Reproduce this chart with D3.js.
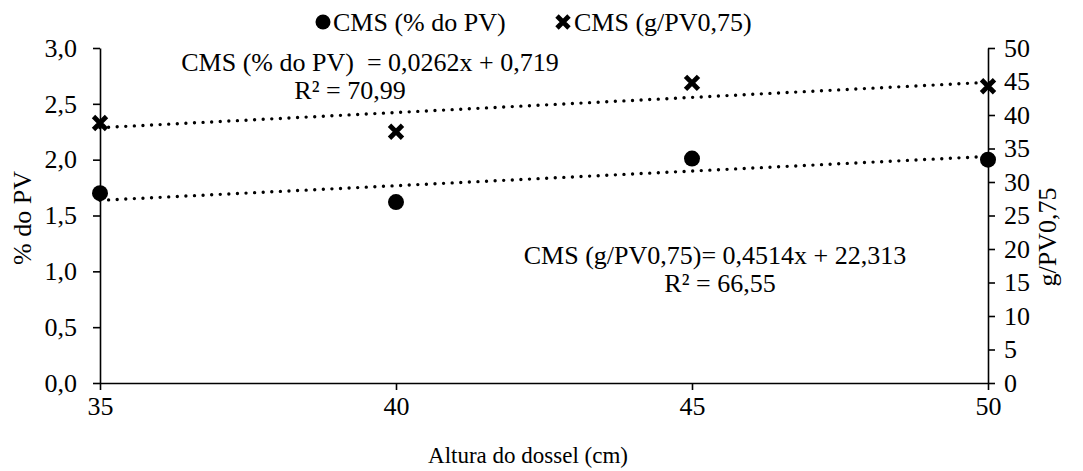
<!DOCTYPE html>
<html>
<head>
<meta charset="utf-8">
<script src="https://cdn.jsdelivr.net/npm/d3@7"></script>
<style>
  html, body { margin: 0; padding: 0; background: #fff; }
  svg { display: block; }
</style>
</head>
<body>
<svg id="chart" width="1083" height="471"></svg>
<script>
// ---- data ----
const alturas = [35, 40, 45, 50];                 // x categories (cm)
const cmsPV = [1.70, 1.62, 2.01, 2.00];           // CMS (% do PV) - left axis
const cmsGPV = [38.8, 37.5, 44.8, 44.3];          // CMS (g/PV0,75) - right axis
const xTicks = [35, 40, 45, 50];
const yLeftTicks = [0, 0.5, 1.0, 1.5, 2.0, 2.5, 3.0];
const yRightTicks = [0, 5, 10, 15, 20, 25, 30, 35, 40, 45, 50];
const trendPV = [0.0262, 0.719];                  // slope, intercept
const trendGPV = [0.4514, 22.313];
const seriesNames = ["CMS (% do PV)", "CMS (g/PV0,75)"];
const eqPV = ["CMS (% do PV)  = 0,0262x + 0,719", "R² = 70,99"];
const eqGPV = ["CMS (g/PV0,75)= 0,4514x + 22,313", "R² = 66,55"];
const axisTitles = ["Altura do dossel (cm)", "% do PV", "g/PV0,75"];

// ---- layout ----
const W = 1083, H = 471;
const m = { left: 100, right: 95, top: 48, bottom: 88 };
const FONT = '"Liberation Serif", "Times New Roman", Times, serif';
const fs = 26;
const svg = d3.select("#chart");

const x = d3.scaleLinear().domain([35, 50]).range([m.left, W - m.right]);
const yL = d3.scaleLinear().domain([0, 3]).range([H - m.bottom, m.top]);
const yR = d3.scaleLinear().domain([0, 50]).range([H - m.bottom, m.top]);

const fmt1 = d => d3.format(".1f")(d).replace(".", ",");

// axes
const gx = svg.append("g").attr("transform", `translate(0,${H - m.bottom})`)
  .call(d3.axisBottom(x).tickValues(xTicks).tickSize(7).tickSizeOuter(0).tickPadding(7));
const gl = svg.append("g").attr("transform", `translate(${m.left},0)`)
  .call(d3.axisLeft(yL).tickValues(yLeftTicks).tickFormat(fmt1).tickSize(7).tickSizeOuter(0).tickPadding(16));
const gr = svg.append("g").attr("transform", `translate(${W - m.right},0)`)
  .call(d3.axisRight(yR).tickValues(yRightTicks).tickFormat(d3.format("d")).tickSize(7).tickSizeOuter(0).tickPadding(9));

[gx, gl, gr].forEach(g => {
  g.attr("font-family", null).attr("font-size", null);
  g.selectAll("path.domain").attr("stroke", "#000").attr("stroke-width", 1.6);
  g.selectAll(".tick line").attr("stroke", "#000").attr("stroke-width", 1.6);
  g.selectAll(".tick text").style("font-size", fs + "px").style("font-family", FONT).attr("fill", "#000");
});

// trendlines
const dotted = (coef, yScale) => {
  svg.append("line")
    .attr("x1", x(35)).attr("x2", x(50))
    .attr("y1", yScale(coef[0] * 35 + coef[1]))
    .attr("y2", yScale(coef[0] * 50 + coef[1]))
    .attr("stroke", "#000").attr("stroke-width", 3.4)
    .attr("stroke-linecap", "round").attr("stroke-dasharray", "0 8.6");
};
dotted(trendPV, yL);
dotted(trendGPV, yR);

// markers
svg.append("g").selectAll("circle").data(alturas).join("circle")
  .attr("cx", d => x(d)).attr("cy", (d, i) => yL(cmsPV[i])).attr("r", 8).attr("fill", "#000");

const xmark = (g, cx, cy, s) => {
  g.append("path")
    .attr("d", `M${cx - s},${cy - s}L${cx + s},${cy + s}M${cx - s},${cy + s}L${cx + s},${cy - s}`)
    .attr("stroke", "#000").attr("stroke-width", 4.8).attr("stroke-linecap", "butt");
};
const gm = svg.append("g");
alturas.forEach((d, i) => xmark(gm, x(d), yR(cmsGPV[i]), 6.5));

const txt = (xp, yp, s, anchor, size) => svg.append("text")
  .attr("x", xp).attr("y", yp).attr("text-anchor", anchor || "start")
  .style("font-family", FONT).style("font-size", (size || fs) + "px").style("white-space", "pre")
  .attr("fill", "#000").text(s);

// legend
svg.append("circle").attr("cx", 323).attr("cy", 22).attr("r", 7.5).attr("fill", "#000");
txt(333, 31, seriesNames[0]);
xmark(svg, 563, 22, 6);
txt(574, 31, seriesNames[1]);

// equations
txt(370, 71, eqPV[0], "middle");
txt(350, 99, eqPV[1], "middle");
txt(715, 264, eqGPV[0], "middle");
txt(720, 292, eqGPV[1], "middle");

// axis titles
txt(528, 463, axisTitles[0], "middle", 23);
txt(0, 0, axisTitles[1], "middle").attr("transform", `translate(31,218) rotate(-90)`);
txt(0, 0, axisTitles[2], "middle").attr("transform", `translate(1056,237) rotate(-90)`);
</script>
</body>
</html>
